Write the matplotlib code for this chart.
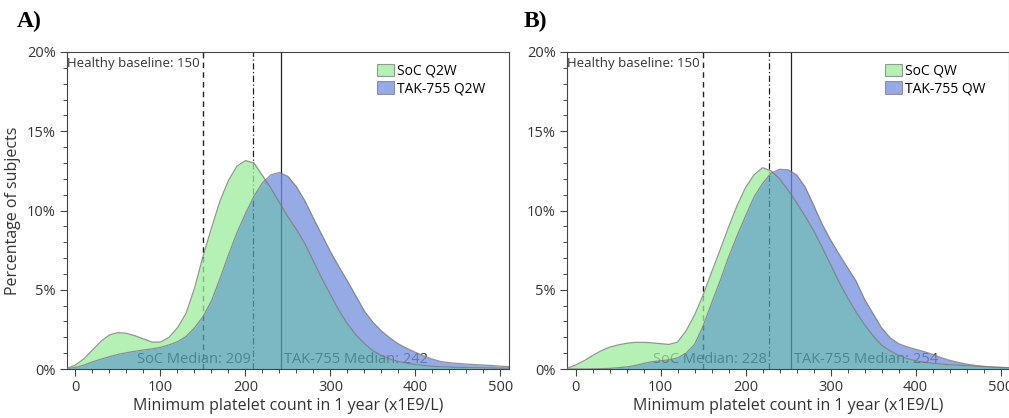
"""Distribution of minimum platelet count in 1 year, SoC vs TAK-755 (two dosing panels)."""

import matplotlib
matplotlib.use("Agg")
import matplotlib.pyplot as plt
import matplotlib.ticker as ticker
from matplotlib.patches import Patch
import numpy as np

# Platelet count grid (x1E9/L)
PLT_GRID = list(range(-10, 520, 10))

# Panel A: Q2W dosing, percentage of subjects
SOC_Q2W = [0.05, 0.25, 0.65, 1.2, 1.75, 2.15, 2.3, 2.25, 2.1, 1.9,
           1.7, 1.7, 2.0, 2.6, 3.5, 5.1, 7.1, 8.9, 10.6, 11.9,
           12.8, 13.15, 13.0, 12.2, 11.4, 10.5, 9.6, 8.8, 7.9, 6.8,
           5.7, 4.7, 3.7, 2.85, 2.15, 1.6, 1.15, 0.85, 0.62, 0.47,
           0.36, 0.28, 0.22, 0.17, 0.14, 0.12, 0.1, 0.09, 0.08, 0.07,
           0.06, 0.05, 0.05]
TAK_Q2W = [0.02, 0.1, 0.25, 0.45, 0.62, 0.78, 0.92, 1.03, 1.12, 1.2,
           1.27, 1.36, 1.52, 1.72, 2.05, 2.6, 3.3, 4.3, 5.7, 7.2,
           8.6, 9.8, 10.9, 11.75, 12.25, 12.4, 12.15, 11.5, 10.6, 9.5,
           8.45, 7.4, 6.45, 5.55, 4.6, 3.65, 2.95, 2.4, 1.95, 1.58,
           1.3, 1.05, 0.82, 0.62, 0.47, 0.4, 0.35, 0.31, 0.28, 0.25,
           0.22, 0.18, 0.15]

# Panel B: QW dosing
SOC_QW = [0.05, 0.25, 0.52, 0.85, 1.15, 1.38, 1.52, 1.62, 1.68, 1.68,
          1.65, 1.6, 1.55, 1.7, 2.4, 3.4, 4.65, 6.1, 7.5, 8.95,
          10.3, 11.45, 12.25, 12.7, 12.5, 12.0, 11.3, 10.5, 9.65, 8.75,
          7.7, 6.6, 5.5, 4.5, 3.6, 2.8, 2.1, 1.5, 1.15, 0.87,
          0.66, 0.52, 0.43, 0.36, 0.31, 0.27, 0.24, 0.21, 0.18, 0.15,
          0.12, 0.1, 0.08]
TAK_QW = [0.0, 0.0, 0.0, 0.01, 0.02, 0.04, 0.08, 0.13, 0.22, 0.35,
          0.46, 0.52, 0.58, 0.7, 1.0, 1.55, 2.7, 4.15, 5.55, 7.05,
          8.4, 9.65, 10.85, 11.7, 12.35, 12.6, 12.57, 12.25, 11.5, 10.35,
          9.15, 8.15, 7.25, 6.4, 5.55, 4.4, 3.5, 2.6, 1.98, 1.6,
          1.4, 1.25, 1.1, 0.92, 0.72, 0.55, 0.42, 0.31, 0.23, 0.17,
          0.13, 0.1, 0.08]

HEALTHY_BASELINE = 150
PANEL_LABELS = ["A)", "B)"]
SERIES_LABELS = [("SoC Q2W", "TAK-755 Q2W"), ("SoC QW", "TAK-755 QW")]
SOC_MEDIANS = [209, 228]
TAK_MEDIANS = [242, 254]

# colours (chosen so that alpha blending over white gives the target tones)
ALPHA = 0.75
COLOR_SOC = "#9ceb9c"
COLOR_TAK = "#738ede"
COLOR_BOTH = "#50a0b1"
EDGE = "#7a7a7a"
TEXT = "#333333"

plt.rcParams.update({
    "font.family": ["Open Sans", "DejaVu Sans"],
    "font.size": 10,
    "axes.edgecolor": "#444444",
    "axes.linewidth": 0.8,
    "xtick.color": "#444444",
    "ytick.color": "#444444",
    "xtick.labelcolor": TEXT,
    "ytick.labelcolor": TEXT,
})


def draw_panel(ax, soc, tak, labels, soc_med, tak_med):
    x = np.array(PLT_GRID, dtype=float)
    soc = np.array(soc)
    tak = np.array(tak)
    both = np.minimum(soc, tak)

    # reference lines sit underneath the translucent fills
    ax.axvline(HEALTHY_BASELINE, color="#222222", lw=1.0, ls=(0, (4, 3)), zorder=1)
    ax.axvline(soc_med, color="#222222", lw=0.9, ls=(0, (5, 2, 1, 2)), zorder=1)
    ax.axvline(tak_med, color="#222222", lw=0.9, ls="-", zorder=1)

    ax.text(soc_med - 3, 0.15, f"SoC Median: {soc_med}", ha="right", va="bottom",
            fontsize=10.5, color=TEXT, zorder=1)
    ax.text(tak_med + 3, 0.15, f"TAK-755 Median: {tak_med}", ha="left", va="bottom",
            fontsize=10.5, color=TEXT, zorder=1)

    ax.fill_between(x, both, soc, where=soc >= both, color=COLOR_SOC, alpha=ALPHA,
                    lw=0, zorder=2, interpolate=True)
    ax.fill_between(x, both, tak, where=tak >= both, color=COLOR_TAK, alpha=ALPHA,
                    lw=0, zorder=2, interpolate=True)
    ax.fill_between(x, 0, both, color=COLOR_BOTH, alpha=ALPHA, lw=0, zorder=2)
    ax.plot(x, soc, color=EDGE, lw=0.9, alpha=0.8, zorder=3)
    ax.plot(x, tak, color=EDGE, lw=0.9, alpha=0.8, zorder=3)

    ax.text(HEALTHY_BASELINE - 4, 19.7, f"Healthy baseline: {HEALTHY_BASELINE}",
            ha="right", va="top", fontsize=9.5, color=TEXT, zorder=4)

    handles = [Patch(facecolor=COLOR_SOC, alpha=ALPHA, edgecolor=EDGE, lw=0.8),
               Patch(facecolor=COLOR_TAK, alpha=ALPHA, edgecolor=EDGE, lw=0.8)]
    ax.legend(handles, labels, loc="upper right", bbox_to_anchor=(0.965, 0.99),
              frameon=False, fontsize=10, handlelength=1.2, handleheight=1.0,
              handletextpad=0.2, labelspacing=0.2, borderaxespad=0.2)

    ax.set_xlim(-10, 510)
    ax.set_ylim(0, 20)
    ax.xaxis.set_major_locator(ticker.MultipleLocator(100))
    ax.xaxis.set_minor_locator(ticker.MultipleLocator(20))
    ax.yaxis.set_major_locator(ticker.MultipleLocator(5))
    ax.yaxis.set_minor_locator(ticker.MultipleLocator(1))
    ax.yaxis.set_major_formatter(ticker.PercentFormatter(decimals=0))
    ax.tick_params(which="major", length=5, width=0.8, labelsize=10.5, pad=3)
    ax.tick_params(which="minor", length=3, width=0.7)
    ax.set_xlabel("Minimum platelet count in 1 year (x1E9/L)", fontsize=11.5, color=TEXT,
                  labelpad=2)


fig = plt.figure(figsize=(10.09, 4.18), dpi=100)
ax_a = fig.add_axes([0.0664, 0.1172, 0.438, 0.7584])
ax_b = fig.add_axes([0.5620, 0.1172, 0.438, 0.7584])

draw_panel(ax_a, SOC_Q2W, TAK_Q2W, SERIES_LABELS[0], SOC_MEDIANS[0], TAK_MEDIANS[0])
draw_panel(ax_b, SOC_QW, TAK_QW, SERIES_LABELS[1], SOC_MEDIANS[1], TAK_MEDIANS[1])
ax_a.set_ylabel("Percentage of subjects", fontsize=11.5, color=TEXT, labelpad=4)

fig.text(0.017, 0.975, PANEL_LABELS[0], ha="left", va="top", fontsize=17,
         fontweight="bold", family="Liberation Serif")
fig.text(0.519, 0.975, PANEL_LABELS[1], ha="left", va="top", fontsize=17,
         fontweight="bold", family="Liberation Serif")

fig.savefig("out.png", dpi=100)
plt.close(fig)
